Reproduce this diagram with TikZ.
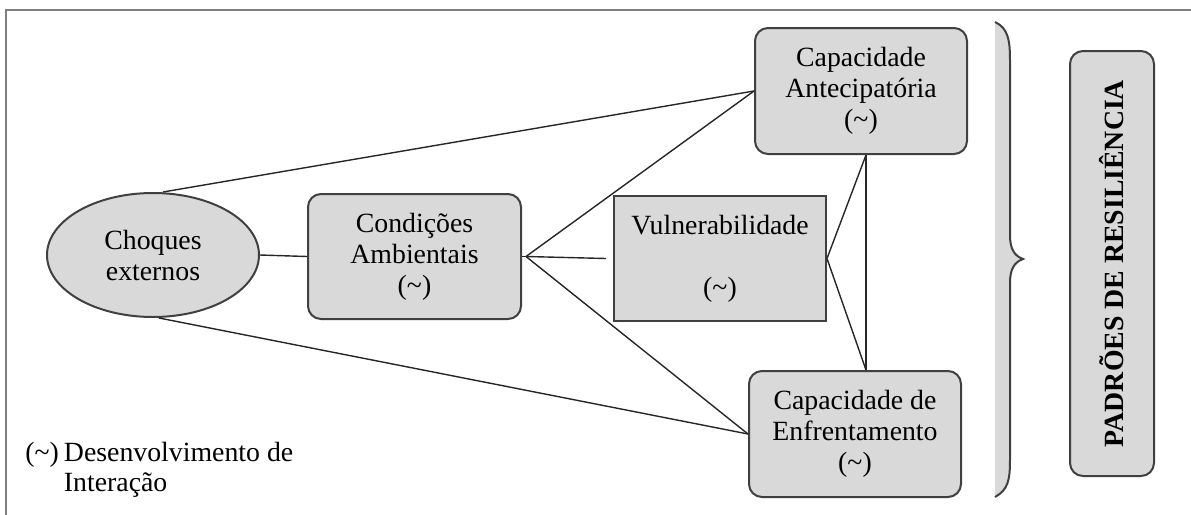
\documentclass[tikz,border=0pt]{standalone}
\usepackage{fontspec}
\setmainfont{Liberation Serif}
\newfontfamily\tnr{Liberation Serif}
\usetikzlibrary{shapes.geometric}
\newcommand{\mytilde}{(\textasciitilde)}
\definecolor{boxfill}{HTML}{D9D9D9}
\definecolor{boxline}{HTML}{404040}
\definecolor{framec}{HTML}{7F7F7F}
\tikzset{
  base/.style={fill=boxfill, draw=boxline, line width=1pt, inner sep=0pt, align=center,
    font=\tnr\fontsize{13.9}{15.5}\selectfont},
  roundbox/.style={base, rectangle, rounded corners=6.5pt},
  sharpbox/.style={base, rectangle},
  oval/.style={base, ellipse},
  conn/.style={draw=black!85, line width=0.7pt},
}
\begin{document}
\begin{tikzpicture}[x=0.5pt,y=-0.5pt]
\useasboundingbox (0,0) rectangle (1191,515);
% frame
\draw[framec, line width=1pt] (6,515) -- (6,10) -- (1191,10);

\node[oval, minimum width=106pt, minimum height=62pt] (ell) at (153,255) {Choques\\externos};
\node[roundbox, minimum width=106.5pt, minimum height=62.5pt] (cond) at (414.5,256.5) {Condições\\Ambientais\\\mytilde};
\node[sharpbox, minimum width=106pt, minimum height=62.5pt] (vuln) at (720,258.5) {Vulnerabilidade\\[15.5pt]\mytilde};
\node[roundbox, minimum width=106pt, minimum height=63pt] (capant) at (861,91) {Capacidade\\Antecipatória\\\mytilde};
\node[roundbox, minimum width=106pt, minimum height=63pt] (capenf) at (855,434) {Capacidade de\\Enfrentamento\\\mytilde};
\node[roundbox, minimum width=42pt, minimum height=212.5pt] (padr) at (1112,263.5) {};
\node[rotate=90, font=\tnr\fontsize{13.9}{15.5}\selectfont\bfseries] (padrtxt) at (padr.center) {PADRÕES DE RESILIÊNCIA};

\node[anchor=west, inner sep=0pt, font=\tnr\fontsize{13.9}{15}\selectfont] (legend) at (25,470)
  {\begin{tabular}{@{}l@{\hspace{2.5pt}}l@{}}\mytilde & Desenvolvimento de\\ & Interação\end{tabular}};

% connectors
\coordinate (cj) at ([xshift=2pt]cond.east);
\coordinate (vin) at ([xshift=-3.5pt]vuln.west);
\coordinate (antb) at ([xshift=2.5pt]capant.south);
\coordinate (enft) at ([xshift=5.5pt]capenf.north);
\draw[conn] (ell.east) -- (cond.west);
\draw[conn] ([xshift=5pt]ell.north) -- (capant.west);
\draw[conn] ([xshift=3pt]ell.south) -- (capenf.west);
\draw[conn] (cond.east) -- (cj);
\draw[conn] (cj) -- (vin);
\draw[conn] (cj) -- (capant.west);
\draw[conn] (cj) -- (capenf.west);
\draw[conn] (vuln.east) -- (antb);
\draw[conn] (vuln.east) -- (enft);
\draw[conn] (antb) -- (enft);

% brace
\fill[boxfill] (995,22) .. controls (1008,28) and (1010,40) .. (1010,60)
  -- (1010,235) .. controls (1010,250) and (1015,256) .. (1023,259)
  .. controls (1015,262) and (1010,268) .. (1010,283)
  -- (1010,460) .. controls (1010,480) and (1008,490) .. (995,497) -- cycle;
\draw[boxline, line width=1pt] (995,22) .. controls (1008,28) and (1010,40) .. (1010,60)
  -- (1010,235) .. controls (1010,250) and (1015,256) .. (1023,259)
  .. controls (1015,262) and (1010,268) .. (1010,283)
  -- (1010,460) .. controls (1010,480) and (1008,490) .. (995,497);
\end{tikzpicture}
\end{document}
